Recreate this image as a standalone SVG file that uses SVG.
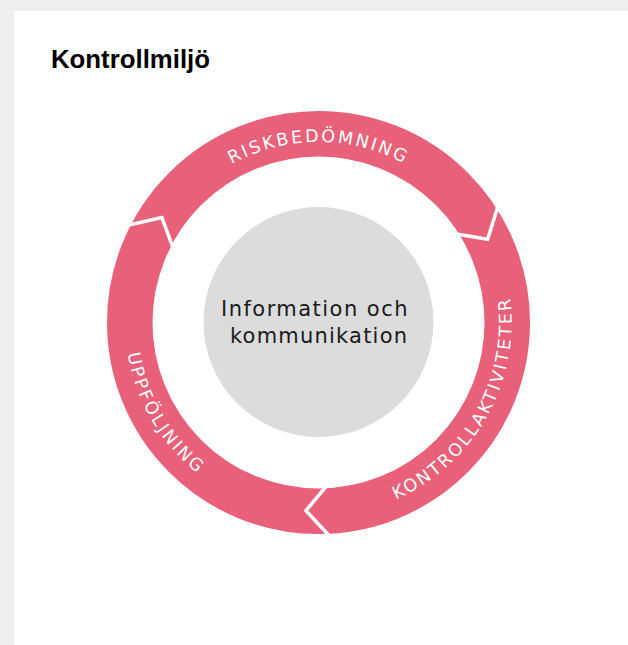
<svg xmlns="http://www.w3.org/2000/svg" width="628" height="645" viewBox="0 0 628 645">
  <style>
    .ring-label { font-family: "DejaVu Sans", "Liberation Sans", sans-serif; font-size: 17.5px; fill: #ffffff; letter-spacing: 2.4px; }
    .center-label { font-family: "DejaVu Sans", "Liberation Sans", sans-serif; font-size: 21px; fill: #1a1a1a; }
    .title { font-family: "Liberation Sans", Arial, sans-serif; font-weight: bold; font-size: 25.5px; fill: #000000; }
    .sep { fill: none; stroke: #ffffff; stroke-width: 3.5; stroke-linejoin: miter; }
  </style>
  <defs>
    <path id="arcTop" d="M 137.9,322.5 A 180.6 180.6 0 0 1 499.1,322.5"/>
    <path id="arcRight" d="M 239.0,498.7 A 193.4 193.4 0 0 0 427.5,162.7"/>
    <path id="arcLeft" d="M 206.2,165.1 A 193.4 193.4 0 0 0 401.8,497.1"/>
  </defs>
  <rect x="0" y="0" width="628" height="645" fill="#eeeeee"/>
  <rect x="14" y="11" width="614" height="634" fill="#ffffff"/>
  <g id="title">
    <text class="title" x="51" y="68" textLength="159" lengthAdjust="spacingAndGlyphs">Kontrollmiljö</text>
  </g>
  <g id="ring">
    <circle cx="318.5" cy="322.5" r="188.75" fill="none" stroke="#e8607a" stroke-width="45.5"/>
  </g>
  <g id="connectors">
    <polyline class="sep" points="127.8,225.3 161.9,217.6 173.3,248.5"/>
    <polyline class="sep" points="498.0,206.0 487.6,239.3 455.2,233.7"/>
    <polyline class="sep" points="329.7,536.2 306.0,510.6 327.0,485.3"/>
  </g>
  <g id="riskbedomning">
    <text class="ring-label"><textPath href="#arcTop" startOffset="50%" text-anchor="middle">RISKBEDÖMNING</textPath></text>
  </g>
  <g id="kontrollaktiviteter">
    <text class="ring-label"><textPath href="#arcRight" startOffset="50%" text-anchor="middle">KONTROLLAKTIVITETER</textPath></text>
  </g>
  <g id="uppfoljning">
    <text class="ring-label"><textPath href="#arcLeft" startOffset="50%" text-anchor="middle">UPPFÖLJNING</textPath></text>
  </g>
  <g id="information">
    <circle cx="318.5" cy="322" r="115" fill="#dcdcdc"/>
    <text class="center-label" x="221" y="316" textLength="186.5" lengthAdjust="spacing">Information och</text>
    <text class="center-label" x="230" y="343" textLength="177" lengthAdjust="spacing">kommunikation</text>
  </g>
</svg>
